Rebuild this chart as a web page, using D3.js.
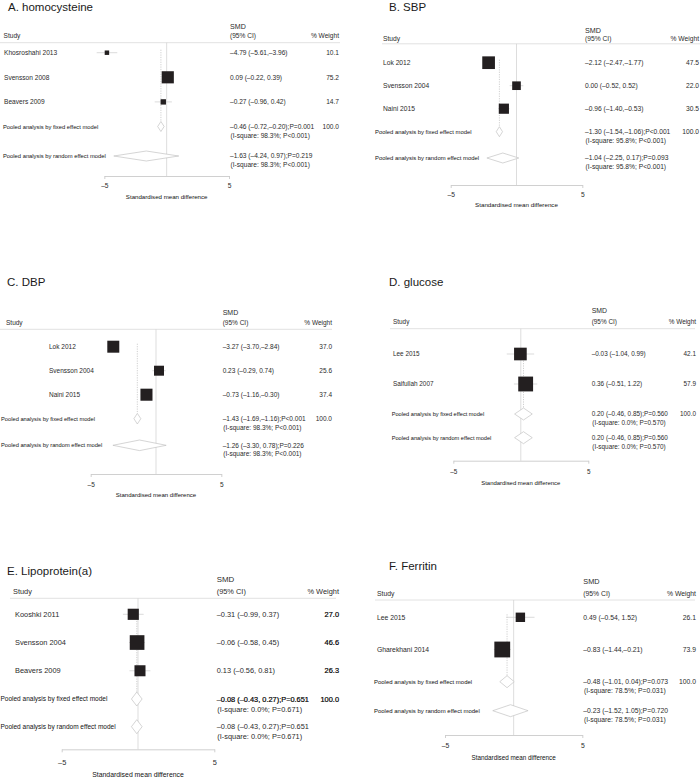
<!DOCTYPE html>
<html>
<head>
<meta charset="utf-8">
<script src="https://cdn.jsdelivr.net/npm/d3@7"></script>
<style>
body { margin: 0; background: #fff; }
svg { display: block; font-family: "Liberation Sans", Arial, Helvetica, sans-serif; }
</style>
</head>
<body>
<script>
/* A. homocysteine */
var homStudies = ["Khosroshahi 2013", "Svensson 2008", "Beavers 2009"];
var homSmd = [-4.79, 0.09, -0.27];
var homLo = [-5.61, -0.22, -0.96];
var homHi = [-3.96, 0.39, 0.42];
var homWeight = [10.1, 75.2, 14.7];
var homFixed = [-0.46, -0.72, -0.20], homFixedP = "P=0.001";
var homRandom = [-1.63, -4.24, 0.97], homRandomP = "P=0.219";
var homHet = [98.3, "P<0.001"];

/* B. SBP */
var sbpStudies = ["Lok 2012", "Svensson 2004", "Naini 2015"];
var sbpSmd = [-2.12, 0.00, -0.96];
var sbpLo = [-2.47, -0.52, -1.40];
var sbpHi = [-1.77, 0.52, -0.53];
var sbpWeight = [47.5, 22.0, 30.5];
var sbpFixed = [-1.30, -1.54, -1.06], sbpFixedP = "P<0.001";
var sbpRandom = [-1.04, -2.25, 0.17], sbpRandomP = "P=0.093";
var sbpHet = [95.8, "P<0.001"];

/* C. DBP */
var dbpStudies = ["Lok 2012", "Svensson 2004", "Naini 2015"];
var dbpSmd = [-3.27, 0.23, -0.73];
var dbpLo = [-3.70, -0.29, -1.16];
var dbpHi = [-2.84, 0.74, -0.30];
var dbpWeight = [37.0, 25.6, 37.4];
var dbpFixed = [-1.43, -1.69, -1.16], dbpFixedP = "P<0.001";
var dbpRandom = [-1.26, -3.30, 0.78], dbpRandomP = "P=0.226";
var dbpHet = [98.3, "P<0.001"];

/* D. glucose */
var gluStudies = ["Lee 2015", "Saifullah 2007"];
var gluSmd = [-0.03, 0.36];
var gluLo = [-1.04, -0.51];
var gluHi = [0.99, 1.22];
var gluWeight = [42.1, 57.9];
var gluFixed = [0.20, -0.46, 0.85], gluFixedP = "P=0.560";
var gluRandom = [0.20, -0.46, 0.85], gluRandomP = "P=0.560";
var gluHet = [0.0, "P=0.570"];

/* E. Lipoprotein(a) */
var lpaStudies = ["Kooshki 2011", "Svensson 2004", "Beavers 2009"];
var lpaSmd = [-0.31, -0.06, 0.13];
var lpaLo = [-0.99, -0.58, -0.56];
var lpaHi = [0.37, 0.45, 0.81];
var lpaWeight = [27.0, 46.6, 26.3];
var lpaFixed = [-0.08, -0.43, 0.27], lpaFixedP = "P=0.651";
var lpaRandom = [-0.08, -0.43, 0.27], lpaRandomP = "P=0.651";
var lpaHet = [0.0, "P=0.671"];

/* F. Ferritin */
var ferStudies = ["Lee 2015", "Gharekhani 2014"];
var ferSmd = [0.49, -0.83];
var ferLo = [-0.54, -1.44];
var ferHi = [1.52, -0.21];
var ferWeight = [26.1, 73.9];
var ferFixed = [-0.48, -1.01, 0.04], ferFixedP = "P=0.073";
var ferRandom = [-0.23, -1.52, 1.05], ferRandomP = "P=0.720";
var ferHet = [78.5, "P=0.031"];

var axisTicks = [-5, 5];

/* Layout constants */
var width = 700,
    height = 777;

var svg = d3.select("body").append("svg")
    .attr("width", width)
    .attr("height", height);

var txt = "#2b2b2b";

var fmt = function(v) {
    var s = Math.abs(v).toFixed(2);
    return v < 0 ? "\u2013" + s : s;
};
var ciText = function(est, lo, hi) {
    return fmt(est) + " (" + fmt(lo) + "," + (hi < 0 ? "" : " ") + fmt(hi) + ")";
};

var panels = [
  { title: "A. homocysteine", studies: homStudies, smd: homSmd, lo: homLo, hi: homHi, weight: homWeight,
    fixed: homFixed, fixedP: homFixedP, random: homRandom, randomP: homRandomP, het: homHet,
    L: { titleX: 8, titleY: 10.5, smdY: 26.5, headY: 36, lineY: 42.7, lineX: [0, 340], headStudyX: 3.5, studyX: 4, pooledX: 3,
         estX: 230, wtX: 339, axisPx: [104.3, 229], firstY: 52.7, fixedY: 126.5, randomY: 156, axisY: 176,
         tickDy: 10, titleDy: 20.7, fs: 6.6, boxK: 1.4, dH: 5 } },
  { title: "B. SBP", studies: sbpStudies, smd: sbpSmd, lo: sbpLo, hi: sbpHi, weight: sbpWeight,
    fixed: sbpFixed, fixedP: sbpFixedP, random: sbpRandom, randomP: sbpRandomP, het: sbpHet,
    L: { titleX: 389, titleY: 11, smdY: 30.8, headY: 38.6, lineY: 43.8, lineX: [382, 700], headStudyX: 383, studyX: 383, pooledX: 375,
         estX: 585, wtX: 699, axisPx: [450.7, 582.3], firstY: 62.7, fixedY: 131.7, randomY: 158, axisY: 185,
         tickDy: 10, titleDy: 20, fs: 6.7, boxK: 1.84, dH: 5 } },
  { title: "C. DBP", studies: dbpStudies, smd: dbpSmd, lo: dbpLo, hi: dbpHi, weight: dbpWeight,
    fixed: dbpFixed, fixedP: dbpFixedP, random: dbpRandom, randomP: dbpRandomP, het: dbpHet,
    L: { titleX: 7, titleY: 285.7, smdY: 313, headY: 323, lineY: 329.3, lineX: [0, 332], headStudyX: 6, studyX: 49, pooledX: 1,
         estX: 222.7, wtX: 332, axisPx: [90.7, 221.3], firstY: 346.7, fixedY: 418.7, randomY: 445.3, axisY: 474,
         tickDy: 10.7, titleDy: 21, fs: 6.5, boxK: 1.97, dH: 5.3 } },
  { title: "D. glucose", studies: gluStudies, smd: gluSmd, lo: gluLo, hi: gluHi, weight: gluWeight,
    fixed: gluFixed, fixedP: gluFixedP, random: gluRandom, randomP: gluRandomP, het: gluHet,
    L: { titleX: 389, titleY: 285.7, smdY: 310.5, headY: 321.7, lineY: 328.7, lineX: [390, 695], headStudyX: 393, studyX: 393, pooledX: 391.7,
         estX: 591.7, wtX: 696, axisPx: [453.3, 588.3], firstY: 354, fixedY: 414, randomY: 437.7, axisY: 460.7,
         tickDy: 11, titleDy: 22, fs: 6.4, boxK: 1.95, dH: 6 } },
  { title: "E. Lipoprotein(a)", studies: lpaStudies, smd: lpaSmd, lo: lpaLo, hi: lpaHi, weight: lpaWeight,
    fixed: lpaFixed, fixedP: lpaFixedP, random: lpaRandom, randomP: lpaRandomP, het: lpaHet,
    L: { titleX: 7, titleY: 575, smdY: 579.3, headY: 591, lineY: 598.3, lineX: [10, 336], headStudyX: 13, studyX: 15, pooledX: 0.5,
         estX: 216.7, wtX: 339, axisPx: [61.7, 214.3], firstY: 614.3, fixedY: 699, randomY: 726.7, axisY: 749.3,
         tickDy: 13.4, titleDy: 25.7, fs: 7.4, boxK: 2.15, dH: 7, boldWt: true } },
  { title: "F. Ferritin", studies: ferStudies, smd: ferSmd, lo: ferLo, hi: ferHi, weight: ferWeight,
    fixed: ferFixed, fixedP: ferFixedP, random: ferRandom, randomP: ferRandomP, het: ferHet,
    L: { titleX: 389, titleY: 570, smdY: 581.5, headY: 594, lineY: 600, lineX: [375, 695], headStudyX: 377, studyX: 377, pooledX: 374,
         estX: 583.3, wtX: 696, axisPx: [445, 582.3], firstY: 617.3, fixedY: 681.7, randomY: 710.7, axisY: 735,
         tickDy: 11, titleDy: 22.3, fs: 6.8, boxK: 1.84, dH: 6 } }
];

// semi-bold look for the emphasised numbers in panel E
var emph = function(sel, on) {
    if (on) sel.attr("fill", "#000").attr("stroke", "#000").attr("stroke-width", 0.2);
};

panels.forEach(function(p) {
    var L = p.L;
    var n = p.studies.length;
    var g = svg.append("g").attr("class", "panel");

    var x = d3.scaleLinear().domain(axisTicks).range(L.axisPx);
    var y = d3.scaleLinear().domain([0, n, n + 1]).range([L.firstY, L.fixedY, L.randomY]);

    // title + header
    g.append("text").attr("x", L.titleX).attr("y", L.titleY)
        .attr("font-size", 11.5).attr("fill", "#1a1a1a").text(p.title);
    g.append("text").attr("x", L.estX).attr("y", L.smdY).attr("dy", "0.35em")
        .attr("font-size", L.fs + 0.5).attr("fill", txt).text("SMD");
    g.append("text").attr("x", L.estX).attr("y", L.headY).attr("dy", "0.35em")
        .attr("font-size", L.fs).attr("fill", txt).text("(95% CI)");
    g.append("text").attr("x", L.headStudyX).attr("y", L.headY).attr("dy", "0.35em")
        .attr("font-size", L.fs).attr("fill", txt).text("Study");
    g.append("text").attr("x", L.wtX).attr("y", L.headY).attr("dy", "0.35em")
        .attr("text-anchor", "end").attr("font-size", L.fs).attr("fill", txt).text("% Weight");
    g.append("line").attr("x1", L.lineX[0]).attr("x2", L.lineX[1])
        .attr("y1", L.lineY).attr("y2", L.lineY)
        .attr("stroke", "#e2e2e2").attr("stroke-width", 1);

    // null line and pooled (fixed) line
    g.append("line").attr("x1", x(0)).attr("x2", x(0))
        .attr("y1", L.lineY).attr("y2", L.axisY)
        .attr("stroke", "#cfcfcf").attr("stroke-width", 0.7);
    g.append("line").attr("x1", x(p.fixed[0])).attr("x2", x(p.fixed[0]))
        .attr("y1", y(0) - 3).attr("y2", y(n) - L.dH)
        .attr("stroke", "#b0b0b0").attr("stroke-width", 0.6)
        .attr("stroke-dasharray", "1.2,1.2");

    // studies
    var side = d3.scaleSqrt().domain([0, 100]).range([0, L.boxK * 10]);
    var rows = g.selectAll("g.study").data(p.studies).enter().append("g").attr("class", "study");
    rows.append("line")
        .attr("x1", function(d, i) { return x(p.lo[i]); })
        .attr("x2", function(d, i) { return x(p.hi[i]); })
        .attr("y1", function(d, i) { return y(i); })
        .attr("y2", function(d, i) { return y(i); })
        .attr("stroke", "#cccccc").attr("stroke-width", 0.7);
    rows.append("rect")
        .attr("x", function(d, i) { return x(p.smd[i]) - side(p.weight[i]) / 2; })
        .attr("y", function(d, i) { return y(i) - side(p.weight[i]) / 2; })
        .attr("width", function(d, i) { return side(p.weight[i]); })
        .attr("height", function(d, i) { return side(p.weight[i]); })
        .attr("fill", "#231f20");
    rows.append("text")
        .attr("x", L.studyX).attr("y", function(d, i) { return y(i); }).attr("dy", "0.35em")
        .attr("font-size", L.fs).attr("fill", txt).text(function(d) { return d; });
    rows.append("text")
        .attr("x", L.estX).attr("y", function(d, i) { return y(i); }).attr("dy", "0.35em")
        .attr("font-size", L.fs).attr("fill", txt)
        .text(function(d, i) { return ciText(p.smd[i], p.lo[i], p.hi[i]); });
    rows.append("text")
        .attr("x", L.wtX).attr("y", function(d, i) { return y(i); }).attr("dy", "0.35em")
        .attr("text-anchor", "end").attr("font-size", L.fs).attr("fill", txt)
        .text(function(d, i) { return p.weight[i].toFixed(1); })
        .call(emph, L.boldWt);

    // pooled estimates
    var pooled = [
        { label: "Pooled analysis by fixed effect model", v: p.fixed, pv: p.fixedP, wt: "100.0", row: n },
        { label: "Pooled analysis by random effect model", v: p.random, pv: p.randomP, wt: "", row: n + 1 }
    ];
    var het = "(I-square: " + p.het[0].toFixed(1) + "%; " + p.het[1] + ")";
    var pg = g.selectAll("g.pooled").data(pooled).enter().append("g").attr("class", "pooled");
    pg.append("path")
        .attr("d", function(d) {
            var yy = y(d.row);
            return "M" + x(d.v[1]) + "," + yy + "L" + x(d.v[0]) + "," + (yy - L.dH) +
                   "L" + x(d.v[2]) + "," + yy + "L" + x(d.v[0]) + "," + (yy + L.dH) + "Z";
        })
        .attr("fill", "#fff").attr("stroke", "#b8b8b8").attr("stroke-width", 0.6);
    pg.append("text")
        .attr("x", L.pooledX).attr("y", function(d) { return y(d.row); }).attr("dy", "0.35em")
        .attr("font-size", L.fs * 0.88).attr("fill", "#111").text(function(d) { return d.label; });
    pg.append("text")
        .attr("x", L.estX).attr("y", function(d) { return y(d.row); }).attr("dy", "0.35em")
        .attr("font-size", L.fs).attr("fill", txt)
        .text(function(d) { return ciText(d.v[0], d.v[1], d.v[2]) + ";" + d.pv; })
        .each(function(d) { emph(d3.select(this), L.boldWt && d.row === n); });
    pg.append("text")
        .attr("x", L.estX + 0.6).attr("y", function(d) { return y(d.row) + L.fs * 1.35; }).attr("dy", "0.35em")
        .attr("font-size", L.fs).attr("fill", txt).text(het);
    pg.append("text")
        .attr("x", L.wtX).attr("y", function(d) { return y(d.row); }).attr("dy", "0.35em")
        .attr("text-anchor", "end").attr("font-size", L.fs).attr("fill", txt)
        .text(function(d) { return d.wt; })
        .call(emph, L.boldWt);

    // axis
    var xAxis = d3.axisBottom(x)
        .tickValues(axisTicks)
        .tickSize(3)
        .tickSizeOuter(0)
        .tickFormat(function(d) { return d < 0 ? "\u2013" + Math.abs(d) : d; });
    var ax = g.append("g").attr("transform", "translate(0," + L.axisY + ")").call(xAxis);
    ax.select(".domain").attr("stroke", "#c4c4c4").attr("stroke-width", 0.8);
    ax.selectAll(".tick line").attr("stroke", "#c4c4c4").attr("stroke-width", 0.8);
    ax.selectAll(".tick text")
        .attr("y", L.tickDy).attr("dy", "0.35em")
        .attr("font-size", L.fs).attr("font-family", null).attr("fill", txt);
    g.append("text")
        .attr("x", x(0)).attr("y", L.axisY + L.titleDy).attr("dy", "0.35em")
        .attr("text-anchor", "middle").attr("font-size", L.fs * 0.93).attr("fill", "#111")
        .text("Standardised mean difference");
});
</script>
</body>
</html>
